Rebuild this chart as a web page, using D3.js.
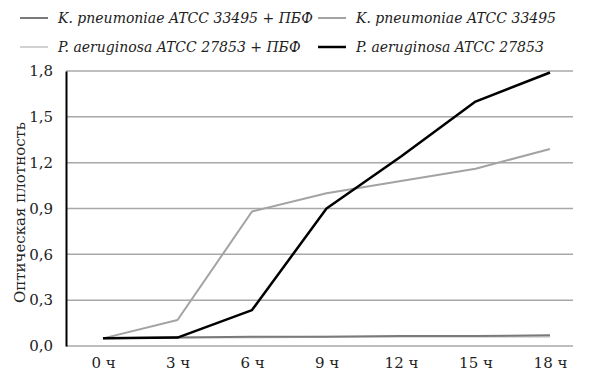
<!DOCTYPE html>
<html><head><meta charset="utf-8">
<script src="https://cdn.jsdelivr.net/npm/d3@7"></script>
<style>body{margin:0;background:#fff}svg{display:block}
svg text{font-family:"DejaVu Serif","Noto Serif","FreeSerif","Georgia","Liberation Serif",serif}</style>
</head><body>
<svg id="c" width="600" height="380"></svg>
<script>
const categories = ["0 ч","3 ч","6 ч","9 ч","12 ч","15 ч","18 ч"];
const yTicks = [0, 0.3, 0.6, 0.9, 1.2, 1.5, 1.8];
const seriesNames = ["K. pneumoniae ATCC 33495 + ПБФ","K. pneumoniae ATCC 33495","P. aeruginosa ATCC 27853 + ПБФ","P. aeruginosa ATCC 27853"];
const kpPbf = [0.05, 0.055, 0.06, 0.06, 0.065, 0.065, 0.07];
const kp = [0.05, 0.17, 0.88, 1.00, 1.08, 1.16, 1.29];
const paPbf = [0.05, 0.055, 0.055, 0.06, 0.06, 0.06, 0.06];
const pa = [0.05, 0.055, 0.235, 0.90, 1.24, 1.60, 1.79];
const colors = ["#7a7a7a","#a3a3a3","#d2d2d2","#000000"];
const widths = [2, 2, 2, 2.5];

(function(){
const svg = d3.select("#c");
const mLeft = 66, mRight = 573, mTop = 71, mBottom = 346;
const x = d3.scalePoint().domain(categories).range([103, 550]);
const y = d3.scaleLinear().domain([0, 1.8]).range([mBottom, mTop]);

svg.append("g").selectAll("line").data(yTicks).join("line")
  .attr("x1", mLeft).attr("x2", mRight)
  .attr("y1", d => y(d)).attr("y2", d => y(d))
  .attr("stroke", "#a8a8a8").attr("stroke-width", 1.5);

const ya = svg.append("g").attr("transform", `translate(${mLeft},0)`)
  .call(d3.axisLeft(y).tickValues(yTicks).tickSize(0).tickPadding(13)
    .tickFormat(d => d3.format(".1f")(d).replace(".", ",")));
ya.attr("font-family", null);
ya.select(".domain").attr("stroke", "#000").attr("stroke-width", 2);
ya.selectAll("text").style("font-size", "15px").attr("fill", "#222");

const xa = svg.append("g").attr("transform", `translate(0,${mBottom})`)
  .call(d3.axisBottom(x).tickSize(0).tickPadding(11));
xa.attr("font-family", null);
xa.select(".domain").remove();
xa.selectAll("text").style("font-size", "15px").attr("fill", "#222");

svg.append("text").attr("transform", `translate(25,${(mTop+mBottom)/2+4}) rotate(-90)`)
  .attr("text-anchor", "middle").style("font-size", "15px")
  .attr("fill", "#222").text("Оптическая плотность");

const data = [kpPbf, kp, paPbf, pa];
const line = d3.line().x((d, i) => x(categories[i])).y(d => y(d));
[2, 0, 1, 3].forEach(k => {
  svg.append("path").datum(data[k]).attr("d", line).attr("fill", "none")
    .attr("stroke", colors[k]).attr("stroke-width", widths[k]).attr("stroke-linejoin", "round");
});

const legPos = [[20, 18], [318, 18], [20, 47], [318, 47]];
seriesNames.forEach((n, i) => {
  const [lx, ly] = legPos[i];
  const g = svg.append("g").attr("transform", `translate(${lx},${ly})`);
  g.append("line").attr("x1", 0).attr("x2", 28).attr("y1", 0).attr("y2", 0)
    .attr("stroke", colors[i]).attr("stroke-width", widths[i]);
  g.append("text").attr("x", 38).attr("y", 5)
    .style("font-style", "italic").style("font-size", "14px").attr("fill", "#222").text(n);
});
})();
</script>
</body></html>
